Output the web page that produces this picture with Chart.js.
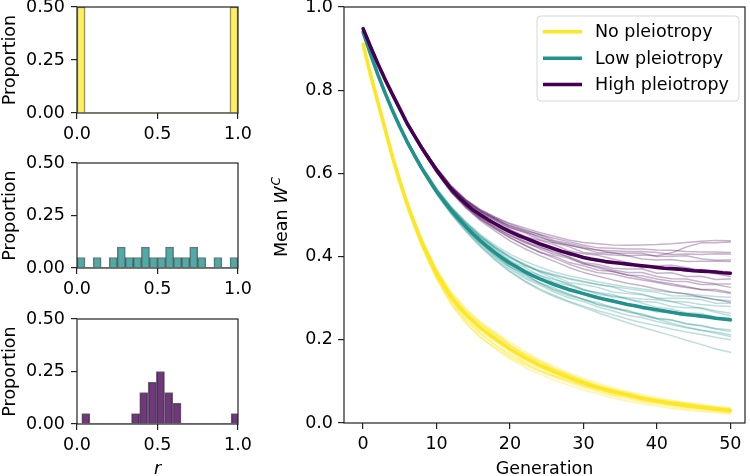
<!DOCTYPE html>
<html><head><meta charset="utf-8">
<script src="https://cdn.jsdelivr.net/npm/chart.js@4.4.1/dist/chart.umd.min.js"></script>
<style>
html,body{margin:0;padding:0;background:#fff;width:750px;height:476px;overflow:hidden}
canvas{position:absolute}
</style></head><body>
<canvas id="h1" width="265" height="150" style="left:0;top:0;width:265px;height:150px"></canvas>
<canvas id="h2" width="265" height="150" style="left:0;top:150px;width:265px;height:150px"></canvas>
<canvas id="h3" width="265" height="176" style="left:0;top:300px;width:265px;height:176px"></canvas>
<canvas id="main" width="480" height="476" style="left:270px;top:0;width:480px;height:476px"></canvas>
<script>
// ---------------- DATA ----------------
const histCenters = [0.025,0.075,0.125,0.175,0.225,0.275,0.325,0.375,0.425,0.475,0.525,0.575,0.625,0.675,0.725,0.775,0.825,0.875,0.925,0.975];
const histNo  = [0.50,0,0,0,0,0,0,0,0,0,0,0,0,0,0,0,0,0,0,0.50];
const histLow = [0.05,0,0.05,0,0.05,0.10,0.05,0.05,0.10,0.05,0.05,0.10,0.05,0.05,0.10,0.05,0,0.05,0,0.05];
const histHighCenters = [0.055,0.106,0.158,0.209,0.261,0.312,0.364,0.415,0.467,0.518,0.570,0.621,0.673,0.724,0.776,0.827,0.879,0.930,0.982];
const histHigh = [0.05,0,0,0,0,0,0.05,0.15,0.20,0.25,0.15,0.10,0,0,0,0,0,0,0.05];

const histXTicks = [0, 0.5, 1];
const histYTicks = [0, 0.25, 0.5];
const mainXTicks = [0, 10, 20, 30, 40, 50];
const mainYTicks = [0, 0.2, 0.4, 0.6, 0.8, 1.0];

const seriesNames = ['No pleiotropy', 'Low pleiotropy', 'High pleiotropy'];

const generations = [0,1,2,3,4,5,6,7,8,9,10,11,12,13,14,15,16,17,18,19,20,21,22,23,24,25,26,27,28,29,30,31,32,33,34,35,36,37,38,39,40,41,42,43,44,45,46,47,48,49,50];
const meanNo = [0.910,0.838,0.772,0.706,0.640,0.580,0.527,0.478,0.434,0.395,0.360,0.330,0.303,0.280,0.261,0.244,0.228,0.215,0.202,0.190,0.178,0.167,0.157,0.148,0.139,0.131,0.123,0.116,0.109,0.102,0.096,0.090,0.085,0.080,0.075,0.071,0.067,0.063,0.059,0.056,0.053,0.050,0.047,0.045,0.042,0.040,0.038,0.036,0.034,0.032,0.030];
const meanLow = [0.940,0.887,0.838,0.793,0.751,0.712,0.676,0.643,0.612,0.584,0.557,0.533,0.511,0.491,0.472,0.454,0.438,0.423,0.409,0.396,0.384,0.374,0.364,0.355,0.347,0.340,0.333,0.327,0.321,0.316,0.311,0.306,0.301,0.297,0.293,0.289,0.285,0.282,0.278,0.275,0.272,0.269,0.266,0.263,0.261,0.259,0.257,0.255,0.252,0.250,0.248];
const meanHigh = [0.948,0.905,0.864,0.826,0.790,0.755,0.720,0.690,0.661,0.634,0.608,0.584,0.562,0.543,0.527,0.512,0.500,0.489,0.479,0.469,0.460,0.452,0.445,0.438,0.431,0.425,0.419,0.413,0.408,0.403,0.398,0.394,0.391,0.388,0.386,0.384,0.382,0.380,0.378,0.376,0.374,0.372,0.371,0.370,0.368,0.366,0.365,0.364,0.363,0.361,0.360];

const repGens = [0,2,4,6,8,10,12,14,16,18,20,22,24,26,28,30,32,34,36,38,40,42,44,46,48,50];
const repNo = [
 [.910,.769,.634,.518,.422,.345,.285,.240,.205,.179,.154,.134,.118,.103,.091,.079,.070,.060,.053,.046,.041,.035,.031,.028,.025,.021],
 [.910,.770,.636,.521,.426,.350,.291,.247,.213,.187,.162,.142,.125,.110,.097,.085,.075,.065,.058,.050,.045,.039,.035,.031,.028,.024],
 [.910,.771,.638,.524,.430,.355,.297,.254,.219,.197,.170,.147,.133,.115,.104,.089,.081,.069,.064,.054,.049,.044,.038,.036,.031,.028],
 [.910,.772,.641,.527,.435,.360,.302,.262,.228,.205,.177,.158,.139,.122,.110,.096,.084,.076,.067,.059,.054,.047,.041,.038,.035,.030],
 [.910,.773,.642,.530,.438,.365,.309,.268,.236,.211,.186,.164,.146,.129,.115,.101,.090,.080,.071,.063,.057,.051,.045,.041,.037,.033],
 [.910,.774,.644,.533,.442,.370,.315,.275,.243,.219,.194,.172,.153,.136,.121,.107,.095,.085,.076,.068,.061,.055,.049,.045,.040,.036],
 [.910,.773,.643,.532,.440,.364,.305,.267,.238,.215,.187,.162,.142,.129,.117,.100,.087,.080,.074,.062,.054,.051,.048,.042,.036,.035],
 [.910,.771,.637,.522,.426,.348,.287,.241,.206,.181,.158,.140,.125,.113,.101,.090,.081,.073,.066,.059,.052,.045,.039,.035,.030,.026],
 [.910,.773,.642,.531,.440,.368,.313,.272,.240,.214,.189,.167,.148,.131,.117,.103,.091,.081,.072,.064,.058,.051,.046,.042,.037,.033],
 [.910,.771,.638,.523,.428,.352,.293,.249,.215,.188,.165,.145,.128,.113,.100,.088,.078,.068,.061,.053,.048,.042,.038,.034,.030,.026],
 [.910,.772,.639,.525,.431,.358,.303,.263,.229,.201,.175,.152,.136,.122,.110,.096,.083,.074,.068,.059,.052,.047,.043,.037,.034,.031],
 [.910,.774,.643,.532,.441,.366,.307,.264,.233,.209,.186,.166,.149,.131,.115,.101,.089,.079,.070,.062,.055,.049,.044,.039,.035,.031]
];
const repLow = [
 [.940,.839,.753,.679,.617,.564,.520,.484,.453,.427,.406,.389,.375,.363,.354,.347,.339,.333,.327,.322,.318,.314,.311,.307,.304,.302],
 [.940,.839,.752,.678,.615,.561,.517,.480,.448,.422,.400,.378,.365,.353,.338,.333,.326,.315,.311,.308,.300,.300,.299,.297,.288,.288],
 [.940,.838,.752,.677,.614,.559,.515,.477,.444,.417,.390,.374,.355,.345,.335,.321,.313,.309,.297,.292,.290,.280,.277,.277,.270,.264],
 [.940,.838,.751,.676,.613,.557,.510,.473,.436,.409,.381,.366,.345,.333,.317,.310,.303,.290,.285,.276,.267,.266,.258,.259,.251,.245],
 [.940,.837,.750,.674,.610,.554,.507,.467,.431,.400,.374,.352,.336,.319,.306,.298,.284,.275,.269,.258,.251,.247,.238,.235,.227,.224],
 [.940,.837,.749,.673,.608,.551,.503,.462,.425,.393,.365,.342,.323,.307,.293,.281,.270,.260,.250,.241,.234,.226,.219,.213,.206,.200],
 [.940,.837,.749,.673,.607,.550,.502,.460,.423,.391,.363,.340,.320,.304,.291,.278,.265,.253,.241,.230,.220,.210,.199,.189,.178,.170],
 [.940,.839,.753,.679,.616,.563,.519,.482,.450,.423,.400,.382,.363,.347,.333,.321,.309,.305,.301,.298,.296,.292,.283,.275,.266,.258],
 [.940,.838,.750,.675,.610,.555,.508,.468,.433,.403,.376,.358,.337,.325,.309,.297,.289,.277,.271,.260,.250,.240,.231,.223,.216,.208],
 [.940,.839,.752,.678,.614,.560,.515,.478,.446,.419,.396,.379,.365,.355,.346,.339,.333,.327,.315,.310,.300,.292,.291,.285,.282,.280],
 [.940,.838,.752,.678,.615,.561,.517,.480,.448,.421,.398,.381,.367,.357,.348,.341,.333,.328,.323,.318,.314,.306,.305,.303,.296,.294],
 [.940,.837,.750,.674,.609,.553,.505,.464,.428,.397,.370,.348,.332,.315,.301,.292,.279,.269,.259,.253,.244,.236,.229,.223,.219,.212],
 [.940,.838,.751,.677,.613,.559,.513,.475,.440,.413,.390,.368,.355,.339,.331,.319,.313,.303,.299,.288,.278,.274,.265,.263,.254,.252],
 [.940,.837,.750,.675,.610,.555,.508,.470,.434,.403,.376,.357,.337,.321,.310,.297,.285,.279,.267,.262,.252,.248,.239,.233,.226,.220]
];
const repHigh = [
 [.948,.865,.792,.723,.665,.614,.570,.537,.513,.495,.480,.469,.458,.449,.440,.434,.431,.428,.427,.428,.429,.431,.434,.437,.439,.438],
 [.948,.865,.791,.722,.664,.612,.567,.535,.510,.491,.470,.459,.449,.434,.428,.420,.409,.410,.402,.404,.402,.409,.423,.433,.433,.435],
 [.948,.863,.790,.721,.663,.611,.567,.533,.509,.491,.474,.463,.453,.444,.436,.428,.421,.420,.418,.418,.416,.415,.412,.411,.411,.410],
 [.948,.865,.791,.721,.663,.610,.565,.532,.506,.487,.470,.457,.441,.433,.424,.410,.406,.404,.402,.394,.392,.393,.388,.389,.389,.388],
 [.948,.864,.789,.720,.661,.607,.563,.527,.502,.477,.460,.448,.428,.421,.404,.398,.389,.389,.382,.373,.376,.371,.364,.369,.365,.358],
 [.948,.864,.790,.719,.659,.606,.559,.523,.494,.471,.450,.436,.419,.405,.396,.382,.376,.368,.362,.362,.352,.347,.346,.339,.335,.334],
 [.948,.863,.789,.718,.658,.604,.557,.520,.490,.467,.446,.427,.411,.397,.382,.370,.361,.358,.350,.344,.338,.331,.326,.321,.321,.314],
 [.948,.863,.788,.717,.657,.602,.554,.517,.486,.461,.438,.419,.403,.389,.374,.362,.353,.344,.336,.330,.322,.315,.310,.303,.297,.290],
 [.948,.864,.791,.720,.660,.606,.558,.524,.495,.473,.456,.437,.425,.409,.400,.386,.381,.372,.370,.370,.360,.361,.352,.353,.345,.346],
 [.948,.865,.792,.722,.664,.613,.568,.535,.509,.491,.474,.461,.446,.437,.428,.420,.416,.408,.408,.408,.400,.401,.402,.395,.391,.392],
 [.948,.864,.791,.722,.664,.613,.569,.536,.512,.494,.478,.465,.453,.439,.432,.424,.415,.414,.412,.412,.410,.405,.406,.405,.407,.406],
 [.948,.863,.789,.718,.658,.603,.555,.518,.489,.466,.445,.428,.411,.401,.386,.378,.367,.364,.356,.354,.346,.341,.340,.333,.333,.326],
 [.948,.864,.790,.721,.662,.610,.565,.531,.506,.487,.466,.449,.439,.429,.414,.407,.403,.394,.386,.378,.378,.379,.374,.367,.359,.352],
 [.948,.864,.789,.719,.659,.605,.558,.521,.492,.469,.452,.433,.422,.413,.398,.384,.373,.364,.356,.348,.340,.335,.328,.321,.317,.312]
];

// ---------------- STYLE ----------------
const RGB = {no:[253,231,37], low:[33,145,140], high:[68,1,84]};
const rgba = (c,a) => `rgba(${c[0]},${c[1]},${c[2]},${a})`;
const FAM = "'DejaVu Sans', sans-serif";
const FS = 17.5;
const AX = '#222';

const framePlugin = {id:'frame', afterDatasetsDraw(chart){
  const {ctx, chartArea:a} = chart;
  ctx.save(); ctx.strokeStyle = AX; ctx.lineWidth = 1.2;
  ctx.strokeRect(a.left, a.top, a.right - a.left, a.bottom - a.top);
  ctx.restore();
}};

function ticksFrom(list){ return function(s){ s.ticks = list.map(v => ({value:v})); }; }

function histChart(id, centers, values, color, padTop, axisH, showX){
  new Chart(document.getElementById(id), {
    type:'bar',
    data:{datasets:[{
      data: centers.map((c,i)=>({x:c, y:values[i]})),
      backgroundColor: rgba(color, color===RGB.no?0.72:0.78),
      borderColor:'rgba(0,0,0,0.55)',
      borderWidth: ctx => values[ctx.dataIndex] > 0 ? 1 : 0,
      borderSkipped:'start',
      barPercentage:1, categoryPercentage:1, clip:0
    }]},
    options:{
      responsive:false, animation:false, devicePixelRatio:1,
      layout:{padding:{top:padTop, right:27, left:0, bottom:0}},
      plugins:{legend:{display:false}, tooltip:{enabled:false}},
      scales:{
        x:{type:'linear', min:0, max:1, offset:false,
           grid:{offset:false, drawOnChartArea:false, drawTicks:true, tickLength:6, color:AX, lineWidth:1.2},
           border:{display:false},
           afterBuildTicks: ticksFrom(histXTicks),
           ticks:{font:{family:FAM,size:FS}, color:'#000', padding:5, maxRotation:0, autoSkip:false, callback:v=>Number(v).toFixed(1)},
           title:{display:showX, text:'r', color:'#000', padding:0, font:{family:FAM,size:FS,style:'italic',lineHeight:0.8}},
           afterFit:s=>{s.height=axisH; s.paddingLeft=0; s.paddingRight=0;}},
        y:{min:0, max:0.5,
           grid:{drawOnChartArea:false, drawTicks:true, tickLength:6, color:AX, lineWidth:1.2},
           border:{display:false},
           afterBuildTicks: ticksFrom(histYTicks),
           ticks:{font:{family:FAM,size:FS}, color:'#000', padding:6, callback:v=>Number(v).toFixed(2)},
           title:{display:true, text:'Proportion', color:'#000', padding:0, font:{family:FAM,size:FS,lineHeight:1.2}},
           afterFit:s=>{s.width=77; s.paddingTop=0; s.paddingBottom=0;}}
      }
    },
    plugins:[framePlugin]
  });
}

histChart('h1', histCenters, histNo, RGB.no, 7, 37, false);
histChart('h2', histCenters, histLow, RGB.low, 13, 32, false);
histChart('h3', histHighCenters, histHigh, RGB.high, 19, 52, true);

// main chart
const toPts = (xs, ys) => ys.map((v,i)=>({x:xs[i], y:v}));
const datasets = [];
datasets.push({data:toPts(generations, meanHigh), borderColor:rgba(RGB.high,1), borderWidth:3.6});
datasets.push({data:toPts(generations, meanLow), borderColor:rgba(RGB.low,1), borderWidth:3.6});
datasets.push({data:toPts(generations, meanNo), borderColor:rgba(RGB.no,1), borderWidth:3.6});
repHigh.forEach(r => datasets.push({data:toPts(repGens, r), borderColor:rgba(RGB.high,0.3), borderWidth:1.5}));
repLow.forEach(r => datasets.push({data:toPts(repGens, r), borderColor:rgba(RGB.low,0.3), borderWidth:1.5}));
repNo.forEach(r => datasets.push({data:toPts(repGens, r), borderColor:rgba(RGB.no,0.4), borderWidth:1.5}));

const yTitlePlugin = {id:'ytitle', afterDraw(chart){
  const ctx = chart.ctx;
  ctx.save(); ctx.translate(17, 217); ctx.rotate(-Math.PI/2);
  ctx.fillStyle = '#000'; ctx.textBaseline = 'alphabetic'; ctx.textAlign = 'left';
  const f1 = `${FS}px ${FAM}`, f2 = `italic ${FS}px ${FAM}`, f3 = `italic ${FS*0.7}px ${FAM}`;
  ctx.font = f1; const w1 = ctx.measureText('Mean ').width;
  ctx.font = f2; const w2 = ctx.measureText('W').width;
  ctx.font = f3; const w3 = ctx.measureText('C').width;
  let x = -(w1 + w2 + w3 + 1)/2;
  ctx.font = f1; ctx.fillText('Mean ', x, 0); x += w1;
  ctx.font = f2; ctx.fillText('W', x, 0); x += w2 + 1;
  ctx.font = f3; ctx.fillText('C', x, -7);
  ctx.restore();
}};

const legendPlugin = {id:'customLegend', afterDraw(chart){
  const ctx = chart.ctx;
  const bx = 267, by = 16, bw = 202, bh = 85, r = 4;
  ctx.save();
  ctx.beginPath();
  ctx.moveTo(bx+r, by); ctx.lineTo(bx+bw-r, by); ctx.quadraticCurveTo(bx+bw, by, bx+bw, by+r);
  ctx.lineTo(bx+bw, by+bh-r); ctx.quadraticCurveTo(bx+bw, by+bh, bx+bw-r, by+bh);
  ctx.lineTo(bx+r, by+bh); ctx.quadraticCurveTo(bx, by+bh, bx, by+bh-r);
  ctx.lineTo(bx, by+r); ctx.quadraticCurveTo(bx, by, bx+r, by);
  ctx.closePath();
  ctx.fillStyle = 'rgba(255,255,255,0.8)'; ctx.fill();
  ctx.strokeStyle = '#d6d6d6'; ctx.lineWidth = 1; ctx.stroke();
  const cols = [RGB.no, RGB.low, RGB.high];
  const lineY = [31.7, 58.3, 84.5];
  ctx.font = `${FS}px ${FAM}`; ctx.textBaseline = 'alphabetic'; ctx.textAlign = 'left';
  seriesNames.forEach((n,i)=>{
    ctx.strokeStyle = rgba(cols[i],1); ctx.lineWidth = 3.6; ctx.lineCap = 'butt';
    ctx.beginPath(); ctx.moveTo(273, lineY[i]); ctx.lineTo(312, lineY[i]); ctx.stroke();
    ctx.fillStyle = '#000'; ctx.fillText(n, 325, lineY[i] + 5.5);
  });
  ctx.restore();
}};

new Chart(document.getElementById('main'), {
  type:'line',
  data:{datasets},
  options:{
    responsive:false, animation:false, devicePixelRatio:1,
    layout:{padding:{top:7, right:5, left:0, bottom:0}},
    plugins:{legend:{display:false}, tooltip:{enabled:false}},
    elements:{point:{radius:0}, line:{tension:0, borderCapStyle:'round', borderJoinStyle:'round'}},
    scales:{
      x:{type:'linear', min:-2.6, max:52,
         grid:{drawOnChartArea:false, drawTicks:true, tickLength:6, color:AX, lineWidth:1.2},
         border:{display:false},
         afterBuildTicks: ticksFrom(mainXTicks),
         ticks:{font:{family:FAM,size:FS}, color:'#000', padding:5, maxRotation:0, autoSkip:false},
         title:{display:true, text:'Generation', color:'#000', padding:0, font:{family:FAM,size:FS,lineHeight:0.8}},
         afterFit:s=>{s.height=53; s.paddingLeft=0; s.paddingRight=0;}},
      y:{min:0, max:1,
         grid:{drawOnChartArea:false, drawTicks:true, tickLength:6, color:AX, lineWidth:1.2},
         border:{display:false},
         afterBuildTicks: ticksFrom(mainYTicks),
         ticks:{font:{family:FAM,size:FS}, color:'#000', padding:5, callback:v=>Number(v).toFixed(1)},
         afterFit:s=>{s.width=74; s.paddingTop=0; s.paddingBottom=0;}}
    }
  },
  plugins:[framePlugin, yTitlePlugin, legendPlugin]
});
</script>
</body></html>
